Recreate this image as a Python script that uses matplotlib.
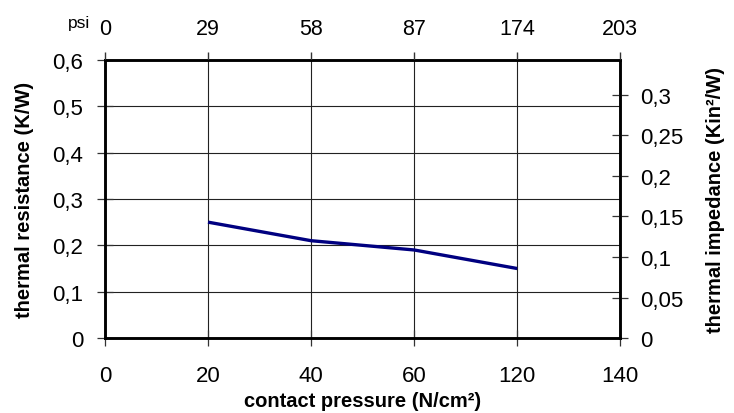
import numpy as np
import matplotlib.pyplot as plt

plt.rcParams['font.family'] = ['Liberation Sans', 'DejaVu Sans']

# x axis is drawn as evenly spaced categories
pressure_labels = ['0', '20', '40', '60', '120', '140']
psi_labels = ['0', '29', '58', '87', '174', '203']
left_ticks = ['0', '0,1', '0,2', '0,3', '0,4', '0,5', '0,6']
right_ticks = ['0', '0,05', '0,1', '0,15', '0,2', '0,25', '0,3']

# measured curve (thermal resistance K/W at each pressure)
meas_pressure = ['20', '40', '60', '120']
meas_resistance = [0.25, 0.21, 0.19, 0.15]

fig = plt.figure(figsize=(7.34, 4.14), dpi=100)
ax = fig.add_axes([0.143, 0.181, 0.702, 0.672])

xpos = np.arange(len(pressure_labels))
line_x = [pressure_labels.index(p) for p in meas_pressure]
ax.plot(line_x, meas_resistance, color='#000080', lw=2.4, solid_capstyle='butt', zorder=3)

ax.set_xlim(0, len(pressure_labels) - 1)
ax.set_ylim(0, 0.6)
ax.set_xticks(xpos)
ax.set_xticklabels(pressure_labels)
ax.set_yticks(np.arange(0, 0.61, 0.1))
ax.set_yticklabels(left_ticks)
ax.grid(True, color='#222222', lw=0.8)
ax.tick_params(axis='both', direction='inout', length=11, width=0.9,
               labelsize=16, colors='#333333', labelcolor='black')
ax.tick_params(axis='x', pad=14)
ax.tick_params(axis='y', pad=10)
for s in ax.spines.values():
    s.set_linewidth(1.8)
    s.set_color('black')

ax.set_xlabel('contact pressure (N/cm²)', fontsize=14.5, fontweight='bold')
ax.xaxis.set_label_coords(0.5, -0.192)
ax.set_ylabel('thermal resistance (K/W)', fontsize=14.5, fontweight='bold')
ax.yaxis.set_label_coords(-0.138, 0.5)

# right axis: thermal impedance
ax2 = ax.twinx()
ax2.set_ylim(0, 0.343)
ax2.set_yticks(np.arange(0, 0.31, 0.05))
ax2.set_yticklabels(right_ticks)
ax2.tick_params(axis='y', direction='inout', length=11, width=0.9,
                labelsize=16, pad=9, colors='#333333', labelcolor='black')
ax2.set_ylabel('thermal impedance (Kin²/W)', fontsize=14.5, fontweight='bold')
ax2.yaxis.set_label_coords(1.167, 0.5)
for s in ax2.spines.values():
    s.set_linewidth(1.8)

# top axis: psi
ax3 = ax.twiny()
ax3.set_xlim(ax.get_xlim())
ax3.set_xticks(xpos)
ax3.set_xticklabels(psi_labels)
ax3.tick_params(axis='x', direction='out', length=6, width=1.0,
                labelsize=15.5, pad=9, colors='#333333', labelcolor='black')
ax3.text(-0.029, 1.133, 'psi', transform=ax3.transAxes, ha='right', va='center',
         fontsize=12.5)

fig.savefig('out.png', dpi=100)
